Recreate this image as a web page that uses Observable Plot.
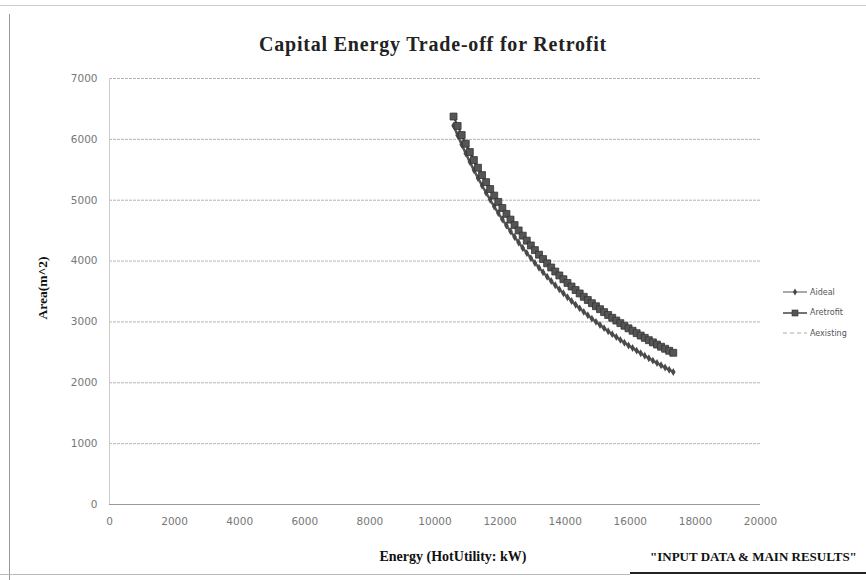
<!DOCTYPE html>
<html>
<head>
<meta charset="utf-8">
<script src="https://cdn.jsdelivr.net/npm/d3@7"></script>
<script src="https://cdn.jsdelivr.net/npm/@observablehq/plot@0.6"></script>
<style>
  html, body { margin: 0; padding: 0; background: #fff; }
  #page { position: relative; width: 866px; height: 580px; overflow: hidden; background: #fff; }
  #page > svg { position: absolute; left: 0; top: 0; }
  .txt { position: absolute; white-space: nowrap; color: #111; font-family: "Liberation Serif", "DejaVu Serif", serif; font-weight: bold; }
  #title { left: 0; width: 866px; top: 33px; text-align: center; font-size: 20px; letter-spacing: 0.8px; color: #222; }
  #xlabel { left: 300px; width: 306px; top: 549px; text-align: center; font-size: 14px; }
  #ylabel { left: 43px; top: 288px; font-size: 13.5px; transform: translate(-50%, -50%) rotate(-90deg); }
  #note { left: 650px; top: 549px; font-size: 13px; }
  #noteRule { position: absolute; left: 630px; top: 572px; width: 236px; height: 2px; background: #222; }
  #frameLeft { position: absolute; left: 9px; top: 14px; width: 1px; height: 566px; background: #999; }
  #frameTop { position: absolute; left: 0; top: 5px; width: 866px; height: 1px; background: #ccc; }
  #frameBottom { position: absolute; left: 0; top: 574px; width: 630px; height: 1px; background: #bbb; }
  #legend { position: absolute; left: 783px; top: 282px; font-family: "DejaVu Sans", sans-serif; font-size: 8px; color: #555; }
  #legend .row { height: 20.5px; display: flex; align-items: center; }
  #legend svg { margin-right: 3px; }
</style>
</head>
<body>
<div id="page">
  <div id="frameTop"></div>
  <div id="frameLeft"></div>
  <div id="frameBottom"></div>
  <div class="txt" id="title">Capital Energy Trade-off for Retrofit</div>
  <div class="txt" id="ylabel">Area(m^2)</div>
  <div class="txt" id="xlabel">Energy (HotUtility: kW)</div>
  <div class="txt" id="note">"INPUT DATA &amp; MAIN RESULTS"</div>
  <div id="noteRule"></div>
  <div id="legend"></div>
</div>
<script>
// Hot utility (kW) at each evaluated point
const energy = [10570, 10695, 10820, 10945, 11070, 11195, 11320, 11445, 11570, 11695,
  11820, 11945, 12070, 12195, 12320, 12445, 12570, 12695, 12820, 12945,
  13070, 13195, 13320, 13445, 13570, 13695, 13820, 13945, 14070, 14195,
  14320, 14445, 14570, 14695, 14820, 14945, 15070, 15195, 15320, 15445,
  15570, 15695, 15820, 15945, 16070, 16195, 16320, 16445, 16570, 16695,
  16820, 16945, 17070, 17195, 17320];

// Ideal (targeted) exchanger area, m^2
const aIdeal = [6225, 6067, 5915, 5769, 5630, 5495, 5366, 5242, 5123, 5007,
  4896, 4788, 4685, 4585, 4488, 4395, 4304, 4216, 4131, 4049,
  3969, 3891, 3816, 3743, 3672, 3602, 3535, 3470, 3406, 3344,
  3282, 3223, 3165, 3109, 3054, 3001, 2949, 2898, 2848, 2799,
  2751, 2705, 2659, 2614, 2571, 2528, 2486, 2445, 2404, 2364,
  2325, 2287, 2250, 2214, 2178];

// Retrofit exchanger area, m^2
const aRetrofit = [6375, 6220, 6071, 5928, 5792, 5660, 5534, 5413, 5297, 5184,
  5076, 4972, 4872, 4775, 4681, 4591, 4503, 4418, 4336, 4257,
  4180, 4105, 4033, 3963, 3895, 3828, 3764, 3702, 3641, 3582,
  3524, 3468, 3413, 3360, 3308, 3258, 3209, 3161, 3114, 3068,
  3023, 2980, 2937, 2895, 2855, 2815, 2776, 2738, 2700, 2664,
  2628, 2593, 2559, 2526, 2493];

// Existing network area series (no points plotted)
const aExisting = [];

const seriesNames = ["Aideal", "Aretrofit", "Aexisting"];
const xTicks = [0, 2000, 4000, 6000, 8000, 10000, 12000, 14000, 16000, 18000, 20000];
const yTicks = [0, 1000, 2000, 3000, 4000, 5000, 6000, 7000];

const ideal = energy.map((e, i) => ({e, a: aIdeal[i]}));
const retrofit = energy.map((e, i) => ({e, a: aRetrofit[i]}));
const existing = aExisting.map((a, i) => ({e: energy[i], a}));

const chart = Plot.plot({
  width: 866,
  height: 580,
  marginLeft: 109,
  marginRight: 106,
  marginTop: 78,
  marginBottom: 76,
  style: {background: "transparent", fontFamily: "DejaVu Sans, sans-serif"},
  x: {domain: [0, 20000], label: null},
  y: {domain: [0, 7000], label: null},
  marks: [
    Plot.ruleY(yTicks.filter(d => d > 0), {stroke: "#b5b5b5", strokeWidth: 1, strokeDasharray: "3,1"}),
    Plot.ruleY([0], {stroke: "#999", strokeWidth: 1}),
    Plot.ruleX([0], {stroke: "#ccc", strokeWidth: 1}),
    Plot.axisX({ticks: xTicks, tickFormat: d => String(d), tickSize: 0, tickPadding: 13, fontSize: 10.5, fill: "#777", label: null}),
    Plot.axisY({ticks: yTicks, tickFormat: d => String(d), tickSize: 0, tickPadding: 12, fontSize: 10.5, fill: "#777", label: null}),
    Plot.line(existing, {x: "e", y: "a", stroke: "#aaa", strokeDasharray: "4,3"}),
    Plot.line(ideal, {x: "e", y: "a", stroke: "#555", strokeWidth: 2.5}),
    Plot.dot(ideal, {x: "e", y: "a", symbol: "diamond", r: 2.4, fill: "#4a4a4a", stroke: "none"}),
    Plot.line(retrofit, {x: "e", y: "a", stroke: "#444", strokeWidth: 2}),
    Plot.dot(retrofit, {x: "e", y: "a", symbol: "square", r: 3.9, fill: "#555", stroke: "#333", strokeWidth: 0.8})
  ]
});
document.getElementById("page").prepend(chart);

// Legend entries drawn as small swatches
const legend = d3.select("#legend");
seriesNames.forEach((name, i) => {
  const row = legend.append("div").attr("class", "row");
  const s = row.append("svg").attr("width", 24).attr("height", 10);
  if (i === 0) {
    s.append("line").attr("x1", 0).attr("x2", 24).attr("y1", 5).attr("y2", 5).attr("stroke", "#555").attr("stroke-width", 1);
    s.append("path").attr("d", d3.symbol(d3.symbolDiamond, 14)()).attr("transform", "translate(12,5)").attr("fill", "#444");
  } else if (i === 1) {
    s.append("line").attr("x1", 0).attr("x2", 24).attr("y1", 5).attr("y2", 5).attr("stroke", "#444").attr("stroke-width", 1.5);
    s.append("rect").attr("x", 9).attr("y", 2).attr("width", 6).attr("height", 6).attr("fill", "#555").attr("stroke", "#333").attr("stroke-width", 0.6);
  } else {
    s.append("line").attr("x1", 0).attr("x2", 24).attr("y1", 5).attr("y2", 5).attr("stroke", "#aaa").attr("stroke-width", 1).attr("stroke-dasharray", "4,3");
  }
  row.append("span").text(name);
});
</script>
</body>
</html>
